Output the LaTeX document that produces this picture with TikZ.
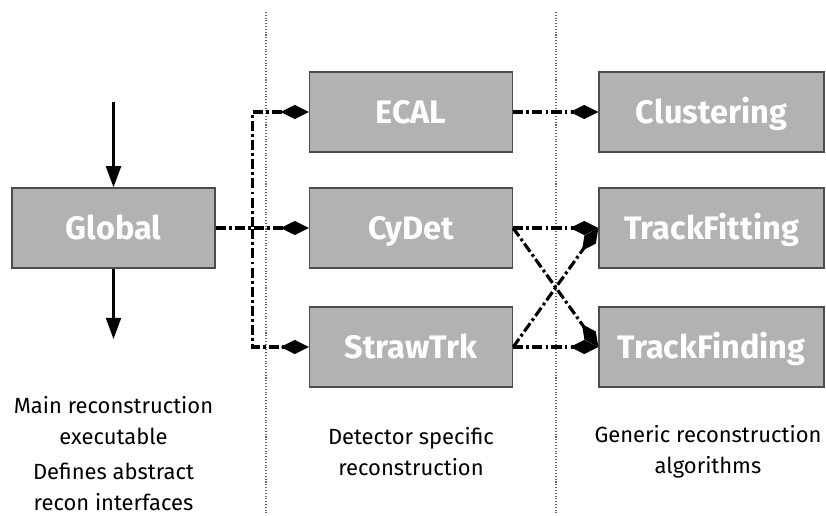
\documentclass[tikz,border=0pt]{standalone}
\usepackage{fontspec}
\setmainfont{Fira Sans}
\usetikzlibrary{arrows.meta}

\begin{document}
\begin{tikzpicture}[x=0.02cm, y=-0.02cm,
    module/.style={rectangle, draw=black!70, fill=black!30,
      line width=0.8pt, minimum height=1.6cm, text=white,
      text height=12.7pt, text depth=0pt,
      font=\fontsize{18.5}{21}\selectfont\bfseries},
    note/.style={align=center, font=\fontsize{12.5}{17.6}\selectfont},
    link/.style={line width=1.8pt,
      dash pattern=on 5.7pt off 1.8pt on 1.6pt off 1.8pt,
      -{Diamond[length=16pt, width=8pt]}},
    sep/.style={draw=black!60, densely dotted, line width=0.6pt}]
  \useasboundingbox (0,0) rectangle (826,515);

  % column separators
  \draw [sep] (266,12) -- (266,515);
  \draw [sep] (556,12) -- (556,515);

  \begin{scope}[every node/.style={module, minimum width=4.06cm}]
    \node (global) at (113.5,228) {Global};
    \node (ecal) at (411,112) {ECAL};
    \node (cydet) at (411,228) {CyDet};
    \node (straw) at (411,347) {StrawTrk};
  \end{scope}
  \begin{scope}[every node/.style={module, minimum width=4.5cm}]
    \node (clus) at (711.5,112) {Clustering};
    \node (fit) at (711.5,228) {TrackFitting};
    \node (find) at (711.5,347) {TrackFinding};
  \end{scope}

  % input and output of the main executable
  \coordinate (in) at (113.5,102);
  \coordinate (out) at (113.5,339);
  \begin{scope}[line width=1.3pt, -{Triangle[length=12pt, width=8.5pt]}]
    \draw (in) -- (global);
    \draw (global) -- (out);
  \end{scope}

  \begin{scope}[link]
    \draw (global.east) -- ++(37,0) |- (ecal.west);
    \draw (global.east) -- (cydet.west);
    \draw (global.east) -- ++(37,0) |- (straw.west);
    \draw (ecal.east) -- (clus.west);
    \draw (cydet.east) -- (fit.west);
    \draw (cydet.east) -- (find.west);
    \draw (straw.east) -- (find.west);
    \draw (straw.east) -- (fit.west);
  \end{scope}

  \node [note] (main) at (113.5,421) {Main reconstruction\\executable};
  \node [note] (iface) at (113.5,487) {Defines abstract\\recon interfaces};
  \node [note] (det) at (411,452) {Detector specific\\reconstruction};
  \node [note] (gen) at (708,452) {Generic reconstruction\\algorithms};
\end{tikzpicture}
\end{document}
